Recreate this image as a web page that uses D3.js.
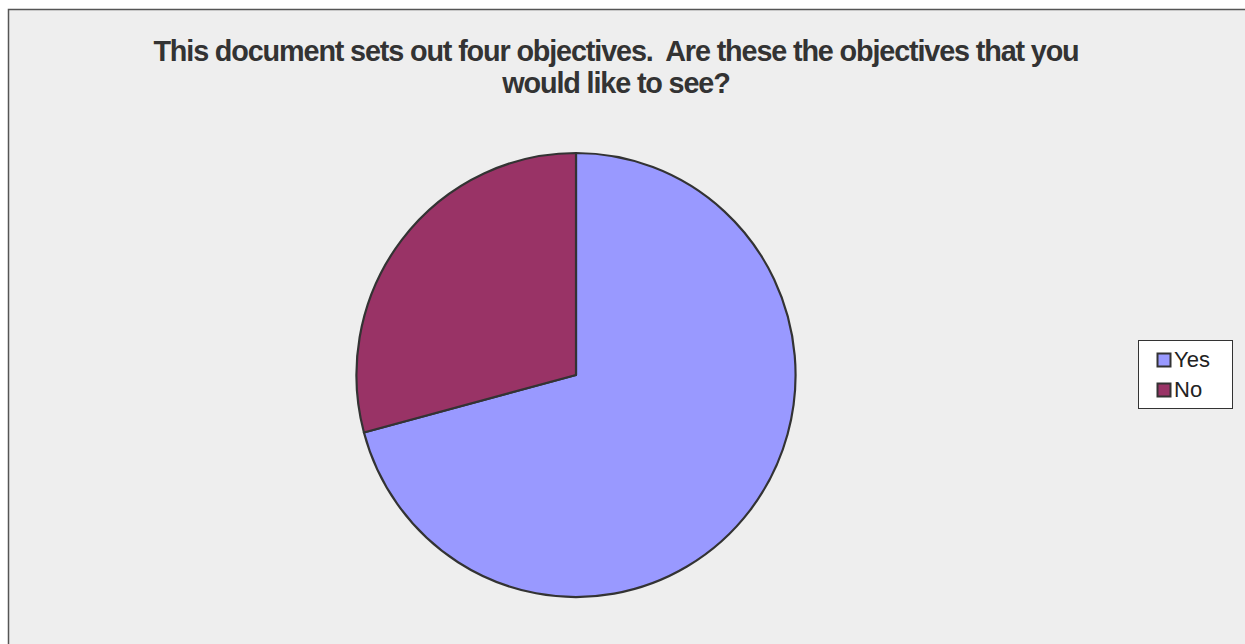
<!DOCTYPE html>
<html>
<head>
<meta charset="utf-8">
<script src="https://cdn.jsdelivr.net/npm/d3@7"></script>
<style>
  body { margin: 0; background: #fff; }
  text { font-family: "Liberation Sans", Arial, sans-serif; }
</style>
</head>
<body>
<script>
const width = 1245;
const height = 644;

const categories = ["Yes", "No"];
const values = [17, 7];
const colors = ["#9999ff", "#993366"];
const titleLines = ["This document sets out four objectives.  Are these the objectives that you", "would like to see?"];

const cx = 576, cy = 375, radius = 222;

const svg = d3.select("body")
    .append("svg")
    .attr("width", width)
    .attr("height", height);

// chart area
svg.append("rect")
    .attr("x", 8.5)
    .attr("y", 9.5)
    .attr("width", width + 10)
    .attr("height", height + 10)
    .attr("fill", "#eeeeee")
    .attr("stroke", "#555")
    .attr("stroke-width", 1.5);

// title
svg.append("text")
    .attr("x", 616)
    .attr("y", 61)
    .attr("text-anchor", "middle")
    .attr("font-size", 28.8)
    .attr("font-weight", "bold")
    .attr("letter-spacing", -1.15)
    .attr("fill", "#333")
    .style("white-space", "pre")
    .selectAll("tspan")
    .data(titleLines)
    .enter()
    .append("tspan")
    .attr("x", 616)
    .attr("dy", (d, i) => i === 0 ? 0 : 32)
    .text(d => d);

const data = categories.map((c, i) => ({ name: c, value: values[i], color: colors[i] }));

const pie = d3.pie()
    .sort(null)
    .value(d => d.value);

const arc = d3.arc()
    .innerRadius(0)
    .outerRadius(radius);

svg.append("g")
    .attr("transform", `translate(${cx}, ${cy}) scale(0.989, 1)`)
    .selectAll("path")
    .data(pie(data))
    .enter()
    .append("path")
    .attr("d", arc)
    .attr("fill", d => d.data.color)
    .attr("stroke", "#333")
    .attr("stroke-width", 2.2)
    .attr("stroke-linejoin", "round");

// legend
const legend = svg.append("g")
    .attr("transform", "translate(1138, 340)");

legend.append("rect")
    .attr("x", 0.5)
    .attr("y", 0.5)
    .attr("width", 94)
    .attr("height", 68)
    .attr("fill", "#fff")
    .attr("stroke", "#333")
    .attr("stroke-width", 1);

const items = legend.selectAll(".item")
    .data(data)
    .enter()
    .append("g")
    .attr("class", "item")
    .attr("transform", (d, i) => `translate(0, ${i * 30})`);

items.append("rect")
    .attr("x", 19.5)
    .attr("y", 13.5)
    .attr("width", 13)
    .attr("height", 13)
    .attr("fill", d => d.color)
    .attr("stroke", "#333")
    .attr("stroke-width", 2);

items.append("text")
    .attr("x", 36)
    .attr("y", 27)
    .attr("font-size", 22)
    .attr("fill", "#222")
    .text(d => d.name);
</script>
</body>
</html>
